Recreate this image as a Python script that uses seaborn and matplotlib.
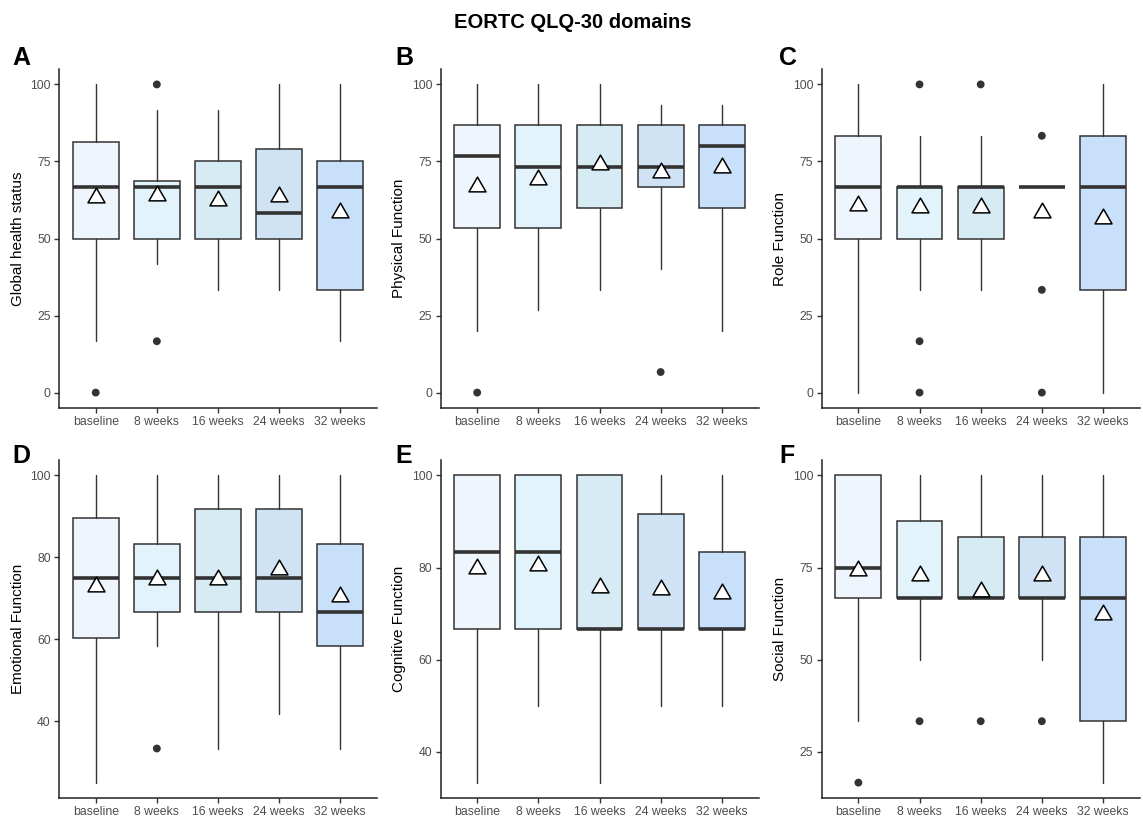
import matplotlib
matplotlib.use("Agg")
import matplotlib.pyplot as plt
from matplotlib.path import Path
import seaborn as sns

sns.set_style("ticks")
plt.rcParams['font.family'] = ['Liberation Sans', 'DejaVu Sans']
plt.rcParams['text.color'] = 'black'
plt.rcParams['axes.labelcolor'] = 'black'

timepoints = ["baseline", "8 weeks", "16 weeks", "24 weeks", "32 weeks"]
box_colors = ["#EEF5FD", "#E2F3FB", "#D6EBF4", "#D0E3F5", "#C8E0FA"]

# A - Global health status
ghs_whislo = [16.67, 41.67, 33.33, 33.33, 16.67]
ghs_q1 = [50, 50, 50, 50, 33.33]
ghs_med = [66.67, 66.67, 66.67, 58.33, 66.67]
ghs_q3 = [81.25, 68.75, 75, 79.17, 75]
ghs_whishi = [100, 91.67, 91.67, 100, 100]
ghs_mean = [64.1, 64.7, 63.0, 64.3, 59.1]
ghs_out = [[0], [100, 16.67], [], [], []]

# B - Physical Function
pf_whislo = [20, 26.67, 33.33, 40, 20]
pf_q1 = [53.33, 53.33, 60, 66.67, 60]
pf_med = [76.67, 73.33, 73.33, 73.33, 80]
pf_q3 = [86.67, 86.67, 86.67, 86.67, 86.67]
pf_whishi = [100, 100, 100, 93.33, 93.33]
pf_mean = [67.8, 70.0, 74.7, 72.1, 73.8]
pf_out = [[0], [], [], [6.67], []]

# C - Role Function
rf_whislo = [0, 33.33, 33.33, 66.67, 0]
rf_q1 = [50, 50, 50, 66.67, 33.33]
rf_med = [66.67, 66.67, 66.67, 66.67, 66.67]
rf_q3 = [83.33, 66.67, 66.67, 66.67, 83.33]
rf_whishi = [100, 83.33, 83.33, 66.67, 100]
rf_mean = [61.4, 60.8, 60.8, 59.2, 57.4]
rf_out = [[], [100, 16.67, 0], [100], [83.33, 33.33, 0], []]

# D - Emotional Function
ef_whislo = [25, 58.33, 33.33, 41.67, 33.33]
ef_q1 = [60.42, 66.67, 66.67, 66.67, 58.33]
ef_med = [75, 75, 75, 75, 66.67]
ef_q3 = [89.58, 83.33, 91.67, 91.67, 83.33]
ef_whishi = [100, 100, 100, 100, 100]
ef_mean = [73.4, 75.2, 75.3, 77.7, 71.0]
ef_out = [[], [33.33], [], [], []]

# E - Cognitive Function
cf_whislo = [33.33, 50, 33.33, 50, 50]
cf_q1 = [66.67, 66.67, 66.67, 66.67, 66.67]
cf_med = [83.33, 83.33, 66.67, 66.67, 66.67]
cf_q3 = [100, 100, 100, 91.67, 83.33]
cf_whishi = [100, 100, 100, 100, 100]
cf_mean = [80.3, 81.0, 76.3, 75.8, 74.9]
cf_out = [[], [], [], [], []]

# F - Social Function
sf_whislo = [33.33, 50, 66.67, 50, 16.67]
sf_q1 = [66.67, 66.67, 66.67, 66.67, 33.33]
sf_med = [75, 66.67, 66.67, 66.67, 66.67]
sf_q3 = [100, 87.5, 83.33, 83.33, 83.33]
sf_whishi = [100, 100, 100, 100, 100]
sf_mean = [75.0, 73.6, 69.1, 73.4, 63.0]
sf_out = [[16.67], [33.33], [33.33], [33.33], []]

panels = [
    ("A", "Global health status", ghs_whislo, ghs_q1, ghs_med, ghs_q3, ghs_whishi, ghs_mean, ghs_out, (-5, 105), [0, 25, 50, 75, 100]),
    ("B", "Physical Function", pf_whislo, pf_q1, pf_med, pf_q3, pf_whishi, pf_mean, pf_out, (-5, 105), [0, 25, 50, 75, 100]),
    ("C", "Role Function", rf_whislo, rf_q1, rf_med, rf_q3, rf_whishi, rf_mean, rf_out, (-5, 105), [0, 25, 50, 75, 100]),
    ("D", "Emotional Function", ef_whislo, ef_q1, ef_med, ef_q3, ef_whishi, ef_mean, ef_out, (21.25, 103.75), [40, 60, 80, 100]),
    ("E", "Cognitive Function", cf_whislo, cf_q1, cf_med, cf_q3, cf_whishi, cf_mean, cf_out, (30, 103.33), [40, 60, 80, 100]),
    ("F", "Social Function", sf_whislo, sf_q1, sf_med, sf_q3, sf_whishi, sf_mean, sf_out, (12.5, 104.17), [25, 50, 75, 100]),
]

W, H = 1143, 818
fig = plt.figure(figsize=(W / 100, H / 100), dpi=100)

lefts_px = [59, 440.5, 821.7]
row_px = [(69, 408), (460, 798)]
width_px = 318
letter_x = [12, 395, 779]
letter_base = [65, 463]

edge = "#333333"
tri = Path([(-1, -0.866), (1, -0.866), (0, 0.866), (-1, -0.866)],
           [Path.MOVETO, Path.LINETO, Path.LINETO, Path.CLOSEPOLY])

for i, (letter, ylabel, wlo, q1, med, q3, whi, mean, outl, ylim, yt) in enumerate(panels):
    r, c = divmod(i, 3)
    top, bot = row_px[r]
    ax = fig.add_axes([lefts_px[c] / W, 1 - bot / H, width_px / W, (bot - top) / H])
    stats = []
    for k in range(len(timepoints)):
        stats.append(dict(med=med[k], q1=q1[k], q3=q3[k], whislo=wlo[k], whishi=whi[k], fliers=[], label=timepoints[k]))
    pos = list(range(len(timepoints)))
    bp = ax.bxp(stats, positions=pos, widths=0.75, patch_artist=True, showfliers=False,
                showcaps=False,
                boxprops=dict(edgecolor=edge, linewidth=1.1),
                medianprops=dict(color=edge, linewidth=2.6, solid_capstyle="butt"),
                whiskerprops=dict(color=edge, linewidth=1.0))
    for patch, col in zip(bp["boxes"], box_colors):
        patch.set_facecolor(col)
    # outliers
    ox, oy = [], []
    for k, vals in enumerate(outl):
        for v in vals:
            ox.append(k)
            oy.append(v)
    if ox:
        sns.scatterplot(x=ox, y=oy, ax=ax, color=edge, s=32, edgecolor="none", zorder=4, legend=False)
    # means
    sns.scatterplot(x=pos, y=mean, ax=ax, marker=tri, s=150, facecolor="white",
                    edgecolor="black", linewidth=1.1, zorder=5, legend=False)
    ax.set_xlim(-0.6, len(timepoints) - 0.4)
    ax.set_ylim(*ylim)
    ax.set_yticks(yt)
    ax.set_yticklabels([str(v) for v in yt])
    ax.set_xticks(pos)
    ax.set_xticklabels(timepoints)
    ax.set_ylabel(ylabel, fontsize=11, color="black", labelpad=4)
    ax.set_xlabel("")
    sns.despine(ax=ax)
    for sp in ("left", "bottom"):
        ax.spines[sp].set_linewidth(1.1)
        ax.spines[sp].set_color("#222222")
    ax.tick_params(axis="both", length=3.5, width=1.0, color=edge, labelsize=8.8,
                   labelcolor="#4D4D4D", pad=2.5)
    ax.set_facecolor("white")
    fig.text(letter_x[c] / W, 1 - letter_base[r] / H, letter, fontsize=18, fontweight="bold",
             ha="left", va="baseline", color="black")

fig.text(573 / W, 1 - 28 / H, "EORTC QLQ-30 domains", fontsize=14.5, fontweight="bold",
         ha="center", va="baseline", color="black")

fig.savefig("out.png", dpi=100, facecolor="white")
